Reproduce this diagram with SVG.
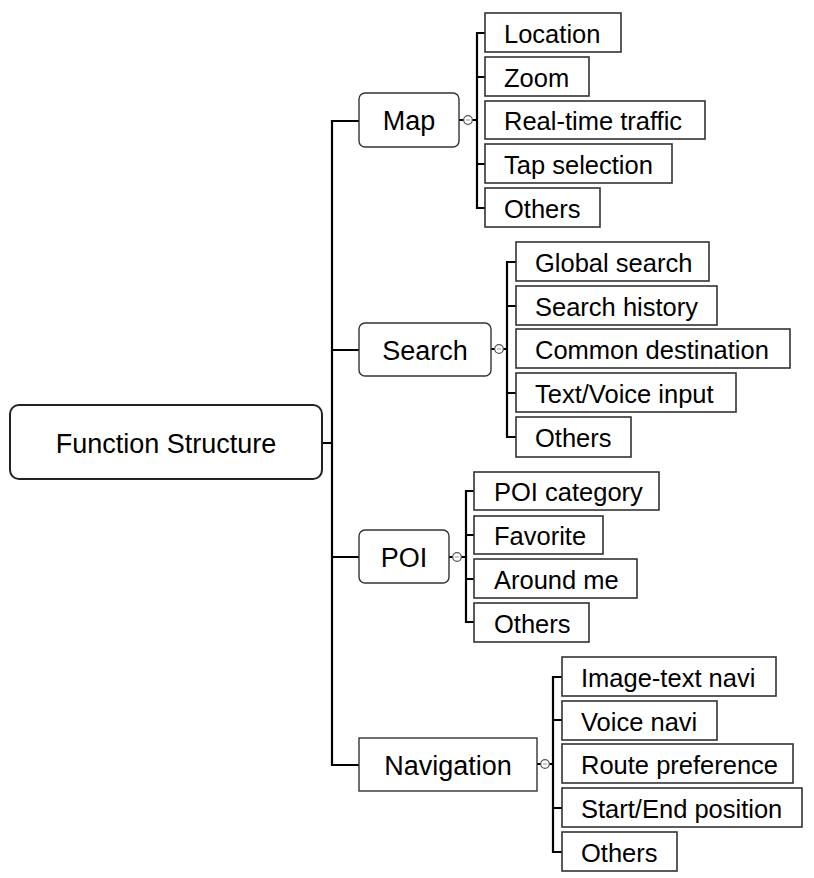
<svg xmlns="http://www.w3.org/2000/svg" width="814" height="878" viewBox="0 0 814 878">
<style>
.root{fill:#fff;stroke:#222;stroke-width:2}
.mid{fill:#fff;stroke:#333;stroke-width:1.4}
.leaf{fill:#fff;stroke:#333;stroke-width:1.6}
.t{font-family:"Liberation Sans",Arial,sans-serif;fill:#000}
.tr{font-size:27px}
.tm{font-size:27px}
.tl{font-size:25.5px}
.ln{fill:none;stroke:#000;stroke-width:2.2}
.cl{fill:#fff;stroke:#555;stroke-width:1.2}
.mn{stroke:#8899bb;stroke-width:1}
</style>
<rect width="814" height="878" fill="#fff"/>
<g id="connectors">
<path class="ln" d="M322,443 H332 M359,121 H332 V765 H359 M332,350 H359 M332,557 H359"/>
<path class="ln" d="M459,120 H464 M472,120 H477 M485,33 H477 V208 H485 M477,77 H485 M477,164 H485"/>
<path class="ln" d="M491,349 H495 M503,349 H507 M516,262 H507 V437 H516 M507,306 H516 M507,393 H516"/>
<path class="ln" d="M449,557 H453 M461,557 H466 M474,491 H466 V622 H474 M466,535 H474 M466,579 H474"/>
<path class="ln" d="M537,764 H541 M549,764 H553 M562,677 H553 V852 H562 M553,720 H562 M553,808 H562"/>
<circle class="cl" cx="468" cy="120" r="4.3"/><path class="mn" d="M466,120 H470"/>
<circle class="cl" cx="499" cy="349" r="4.3"/><path class="mn" d="M497,349 H501"/>
<circle class="cl" cx="457" cy="557" r="4.3"/><path class="mn" d="M455,557 H459"/>
<circle class="cl" cx="545" cy="764" r="4.3"/><path class="mn" d="M543,764 H547"/>
</g>
<g id="root"><rect class="root" x="10" y="405" width="312" height="74" rx="9"/><text class="t tr" x="166" y="453" text-anchor="middle">Function Structure</text></g>
<g id="map"><rect class="mid" x="359" y="93" width="100" height="54" rx="6"/><text class="t tm" x="409" y="130" text-anchor="middle">Map</text></g>
<g id="search"><rect class="mid" x="359" y="323" width="132" height="53" rx="6"/><text class="t tm" x="425" y="360" text-anchor="middle">Search</text></g>
<g id="poi"><rect class="mid" x="359" y="530" width="90" height="53" rx="6"/><text class="t tm" x="404" y="567" text-anchor="middle">POI</text></g>
<g id="navigation"><rect class="mid" x="359" y="738" width="178" height="53"/><text class="t tm" x="448" y="775" text-anchor="middle">Navigation</text></g>

<g id="location"><rect class="leaf" x="485" y="13" width="136" height="39"/><text class="t tl" x="504" y="43">Location</text></g>
<g id="zoom"><rect class="leaf" x="485" y="57" width="104" height="39"/><text class="t tl" x="504" y="87">Zoom</text></g>
<g id="traffic"><rect class="leaf" x="485" y="101" width="220" height="38"/><text class="t tl" x="504" y="130">Real-time traffic</text></g>
<g id="tap"><rect class="leaf" x="485" y="144" width="187" height="39"/><text class="t tl" x="504" y="174">Tap selection</text></g>
<g id="map-others"><rect class="leaf" x="485" y="188" width="115" height="39"/><text class="t tl" x="504" y="218">Others</text></g>

<g id="global"><rect class="leaf" x="516" y="242" width="193" height="39"/><text class="t tl" x="535" y="272">Global search</text></g>
<g id="history"><rect class="leaf" x="516" y="286" width="201" height="39"/><text class="t tl" x="535" y="316">Search history</text></g>
<g id="common"><rect class="leaf" x="516" y="329" width="274" height="39"/><text class="t tl" x="535" y="359">Common destination</text></g>
<g id="textvoice"><rect class="leaf" x="516" y="373" width="220" height="39"/><text class="t tl" x="535" y="403">Text/Voice input</text></g>
<g id="search-others"><rect class="leaf" x="516" y="417" width="115" height="40"/><text class="t tl" x="535" y="447">Others</text></g>

<g id="poicat"><rect class="leaf" x="474" y="472" width="185" height="38"/><text class="t tl" x="494" y="501">POI category</text></g>
<g id="favorite"><rect class="leaf" x="474" y="516" width="129" height="38"/><text class="t tl" x="494" y="545">Favorite</text></g>
<g id="around"><rect class="leaf" x="474" y="559" width="163" height="39"/><text class="t tl" x="494" y="589">Around me</text></g>
<g id="poi-others"><rect class="leaf" x="474" y="603" width="115" height="39"/><text class="t tl" x="494" y="633">Others</text></g>

<g id="imagetext"><rect class="leaf" x="562" y="657" width="214" height="39"/><text class="t tl" x="581" y="687">Image-text navi</text></g>
<g id="voicenavi"><rect class="leaf" x="562" y="701" width="155" height="39"/><text class="t tl" x="581" y="731">Voice navi</text></g>
<g id="route"><rect class="leaf" x="562" y="744" width="231" height="39"/><text class="t tl" x="581" y="774">Route preference</text></g>
<g id="startend"><rect class="leaf" x="562" y="788" width="240" height="39"/><text class="t tl" x="581" y="818">Start/End position</text></g>
<g id="nav-others"><rect class="leaf" x="562" y="832" width="115" height="39"/><text class="t tl" x="581" y="862">Others</text></g>
</svg>
